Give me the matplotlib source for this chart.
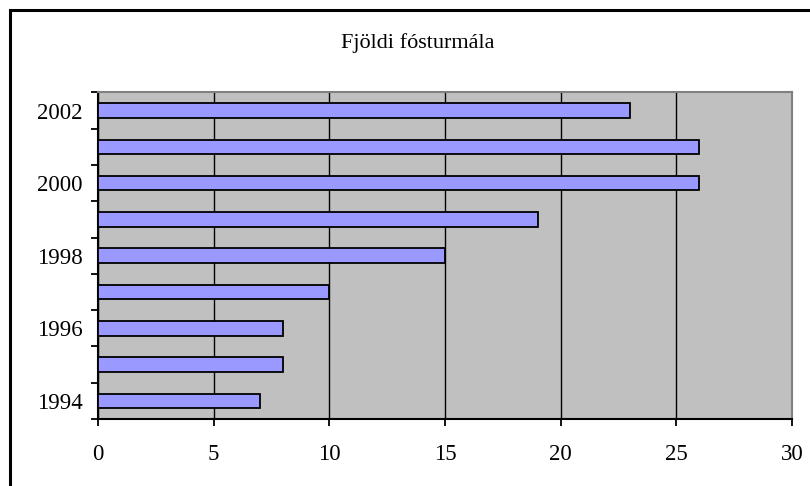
import matplotlib
matplotlib.use("Agg")
import matplotlib.pyplot as plt
from matplotlib.patches import Rectangle

years = [1994, 1995, 1996, 1997, 1998, 1999, 2000, 2001, 2002]
values = [7, 8, 8, 10, 15, 19, 26, 26, 23]
year_labels = ["1994", "", "1996", "", "1998", "", "2000", "", "2002"]
x_ticks = [0, 5, 10, 15, 20, 25, 30]
title = "Fjöldi fósturmála"

W, H = 810, 486
fig = plt.figure(figsize=(W / 100, H / 100), dpi=100)
fig.patch.set_facecolor("white")

# outer chart border (clipped at right/bottom like the reference)
fig.patches.append(Rectangle((10 / W, -0.05), 1.2, (H - 10) / H + 0.05,
                             transform=fig.transFigure, fill=False,
                             edgecolor="black", linewidth=2.2))

left, right, top, bottom = 98, 792, 92.5, 419
ax = fig.add_axes([left / W, 1 - bottom / H, (right - left) / W, (bottom - top) / H])
ax.set_facecolor("#C0C0C0")

pos = list(range(len(years)))
ax.barh(pos, values, height=0.4, color="#9999FF", edgecolor="black",
        linewidth=1.3, zorder=3)

ax.set_xlim(0, 30)
ax.set_ylim(-0.5, len(years) - 0.5)
ax.set_xticks(x_ticks)
ax.set_xticklabels([str(t) for t in x_ticks])
ax.xaxis.grid(True, color="black", linewidth=1.0, zorder=1)
ax.set_axisbelow(True)

ax.set_yticks(pos)
ax.set_yticklabels(year_labels)
ax.tick_params(axis="y", which="major", length=0, pad=11)
ax.set_yticks([p - 0.5 for p in pos] + [len(years) - 0.5], minor=True)
ax.tick_params(axis="y", which="minor", length=5, width=1.3, direction="out")
ax.tick_params(axis="x", length=5, width=1.3, direction="out", pad=13)

for lab in ax.get_xticklabels() + ax.get_yticklabels():
    lab.set_fontfamily("Liberation Serif")
    lab.set_fontsize(16.5)

ax.spines["left"].set_linewidth(1.5)
ax.spines["bottom"].set_linewidth(1.5)
ax.spines["top"].set_color("#808080")
ax.spines["right"].set_color("#808080")
ax.spines["top"].set_linewidth(1.5)
ax.spines["right"].set_linewidth(1.5)

fig.text(417.5 / W, 1 - 43 / H, title, ha="center", va="center",
         fontfamily="Liberation Serif", fontsize=16)

fig.savefig("out.png", dpi=100)
